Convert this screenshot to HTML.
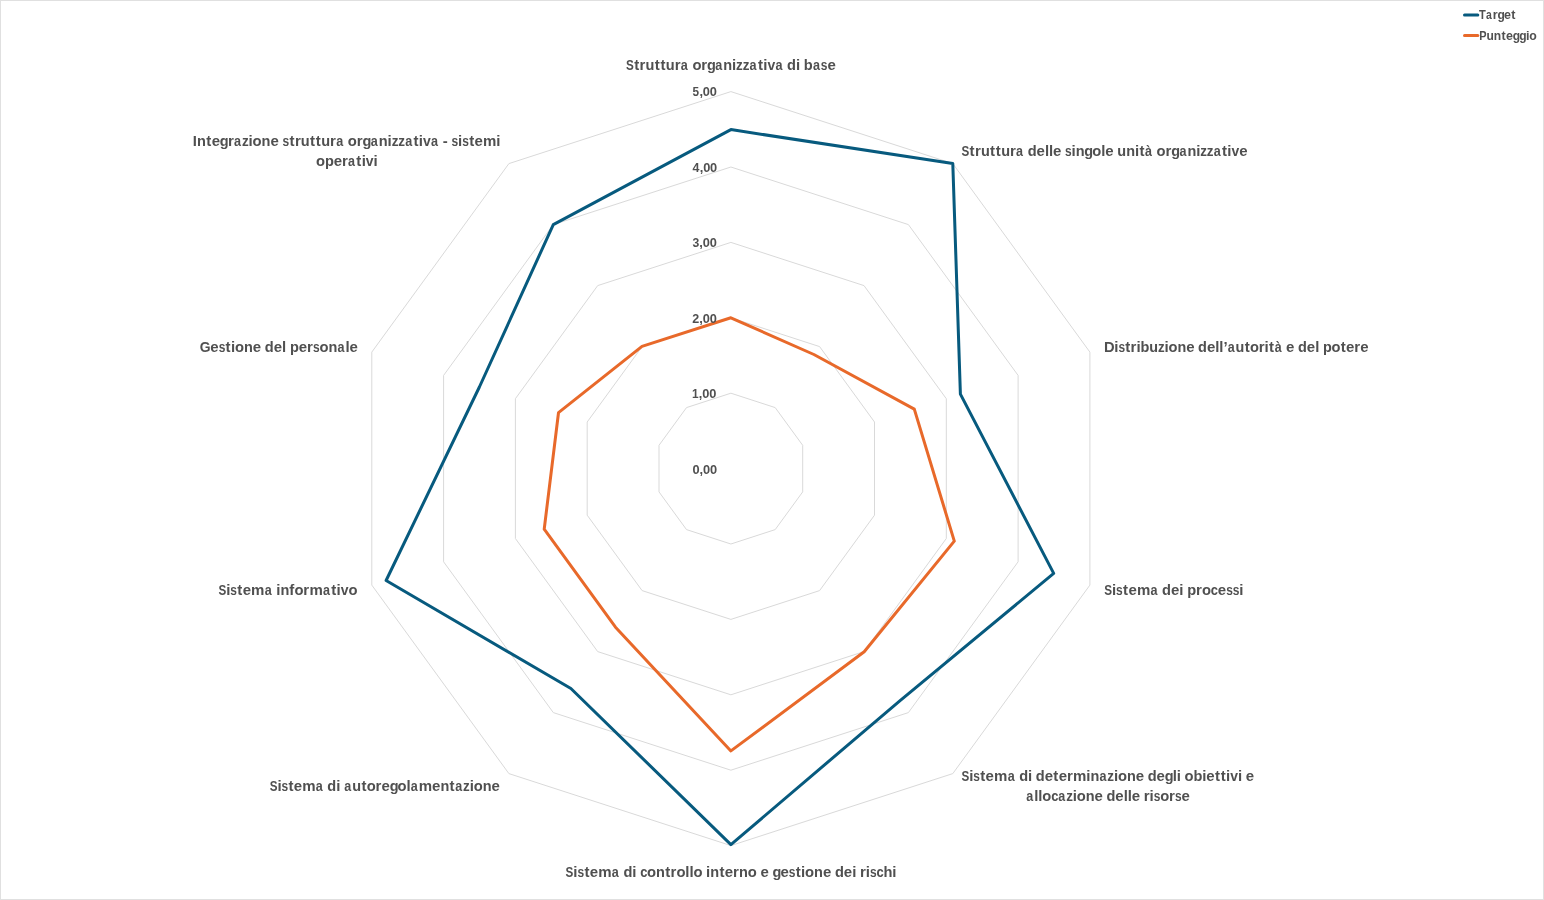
<!DOCTYPE html>
<html><head><meta charset="utf-8"><style>
html,body{margin:0;padding:0;background:#fff;}
body{width:1544px;height:900px;overflow:hidden;position:relative;}
svg{position:absolute;left:0;top:0;will-change:transform;}
text{font-family:"Liberation Sans",sans-serif;font-weight:bold;fill:#505050;}
.lb{font-size:15.0px;}
.vl{font-size:12.8px;}
.lg{font-size:12.5px;}
</style></head><body>
<svg width="1544" height="900" viewBox="0 0 1544 900">
<rect x="0.5" y="0.5" width="1543" height="899" fill="#fff" stroke="#e0e0e0" stroke-width="1"/>
<polygon points="730.9,393.2 775.2,407.6 802.7,445.3 802.7,491.9 775.2,529.6 730.9,544.0 686.5,529.6 659.0,491.9 659.0,445.3 686.5,407.6" fill="none" stroke="#d9d9d9" stroke-width="1"/>
<polygon points="730.9,317.8 819.6,346.6 874.5,422.0 874.5,515.2 819.6,590.6 730.9,619.4 642.1,590.6 587.2,515.2 587.2,422.0 642.1,346.6" fill="none" stroke="#d9d9d9" stroke-width="1"/>
<polygon points="730.9,242.4 864.0,285.6 946.3,398.7 946.3,538.5 864.0,651.6 730.9,694.8 597.7,651.6 515.4,538.5 515.4,398.7 597.7,285.6" fill="none" stroke="#d9d9d9" stroke-width="1"/>
<polygon points="730.9,167.0 908.4,224.6 1018.1,375.4 1018.1,561.8 908.4,712.6 730.9,770.2 553.3,712.6 443.6,561.8 443.6,375.4 553.3,224.6" fill="none" stroke="#d9d9d9" stroke-width="1"/>
<polygon points="730.9,91.6 952.8,163.6 1089.9,352.1 1089.9,585.1 952.8,773.6 730.9,845.6 508.9,773.6 371.8,585.1 371.8,352.1 508.9,163.6" fill="none" stroke="#d9d9d9" stroke-width="1"/>
<polygon points="730.9,129.6 952.8,163.6 960.4,394.1 1053.7,573.4 899.8,700.8 730.9,844.6 570.9,688.5 386.1,580.5 479.4,387.0 553.3,224.6" fill="none" stroke="#075a7e" stroke-width="3" stroke-linejoin="round"/>
<polygon points="730.9,317.8 813.9,354.5 914.3,409.1 954.3,541.1 864.2,651.8 730.9,750.9 615.5,627.2 544.2,529.2 558.5,412.7 642.0,346.4" fill="none" stroke="#e8692a" stroke-width="3" stroke-linejoin="round"/>
<g class="vl"><text transform="scale(1.0000 1)" x="692.45" y="474.00">0</text><text transform="scale(1.0000 1)" x="699.50" y="474.00">,</text><text transform="scale(1.0000 1)" x="702.97" y="474.00">0</text><text transform="scale(1.0000 1)" x="709.94" y="474.00">0</text></g>
<g class="vl"><text transform="scale(0.9288 1)" x="745.09" y="398.00">1</text><text transform="scale(1.0000 1)" x="698.86" y="398.00">,</text><text transform="scale(1.0000 1)" x="702.33" y="398.00">0</text><text transform="scale(1.0000 1)" x="709.30" y="398.00">0</text></g>
<g class="vl"><text transform="scale(0.9783 1)" x="707.69" y="323.00">2</text><text transform="scale(1.0000 1)" x="699.31" y="323.00">,</text><text transform="scale(1.0000 1)" x="702.79" y="323.00">0</text><text transform="scale(1.0000 1)" x="709.75" y="323.00">0</text></g>
<g class="vl"><text transform="scale(0.9550 1)" x="725.17" y="247.00">3</text><text transform="scale(1.0000 1)" x="699.27" y="247.00">,</text><text transform="scale(1.0000 1)" x="702.74" y="247.00">0</text><text transform="scale(1.0000 1)" x="709.71" y="247.00">0</text></g>
<g class="vl"><text transform="scale(0.9714 1)" x="713.00" y="172.00">4</text><text transform="scale(1.0000 1)" x="699.68" y="172.00">,</text><text transform="scale(1.0000 1)" x="703.15" y="172.00">0</text><text transform="scale(1.0000 1)" x="710.12" y="172.00">0</text></g>
<g class="vl"><text transform="scale(0.9224 1)" x="750.68" y="96.00">5</text><text transform="scale(1.0000 1)" x="699.38" y="96.00">,</text><text transform="scale(1.0000 1)" x="702.85" y="96.00">0</text><text transform="scale(1.0000 1)" x="709.82" y="96.00">0</text></g>
<g class="lb"><text transform="scale(0.7807 1)" x="801.80" y="70.00">S</text><text transform="scale(1.0000 1)" x="634.14" y="70.00">t</text><text transform="scale(1.0000 1)" x="639.52" y="70.00">r</text><text transform="scale(0.9686 1)" x="666.35" y="70.00">u</text><text transform="scale(1.0000 1)" x="654.65" y="70.00">t</text><text transform="scale(1.0000 1)" x="660.39" y="70.00">t</text><text transform="scale(0.9686 1)" x="687.37" y="70.00">u</text><text transform="scale(1.0000 1)" x="674.65" y="70.00">r</text><text transform="scale(0.8408 1)" x="809.66" y="70.00">a</text><text transform="scale(0.9883 1)" x="700.62" y="70.00">o</text><text transform="scale(1.0000 1)" x="701.35" y="70.00">r</text><text transform="scale(0.9664 1)" x="731.60" y="70.00">g</text><text transform="scale(0.8408 1)" x="850.75" y="70.00">a</text><text transform="scale(0.9686 1)" x="746.80" y="70.00">n</text><text transform="scale(1.0000 1)" x="732.11" y="70.00">i</text><text transform="scale(0.8976 1)" x="820.10" y="70.00">z</text><text transform="scale(0.8976 1)" x="827.43" y="70.00">z</text><text transform="scale(0.8408 1)" x="891.52" y="70.00">a</text><text transform="scale(1.0000 1)" x="757.89" y="70.00">t</text><text transform="scale(1.0000 1)" x="763.25" y="70.00">i</text><text transform="scale(0.9315 1)" x="823.87" y="70.00">v</text><text transform="scale(0.8408 1)" x="922.21" y="70.00">a</text><text transform="scale(0.9753 1)" x="806.99" y="70.00">d</text><text transform="scale(1.0000 1)" x="795.95" y="70.00">i</text><text transform="scale(0.9753 1)" x="824.24" y="70.00">b</text><text transform="scale(0.8408 1)" x="966.80" y="70.00">a</text><text transform="scale(0.8016 1)" x="1024.03" y="70.00">s</text><text transform="scale(1.0000 1)" x="827.43" y="70.00">e</text></g>
<g class="lb"><text transform="scale(0.7783 1)" x="1235.38" y="156.00">S</text><text transform="scale(1.0000 1)" x="969.61" y="156.00">t</text><text transform="scale(1.0000 1)" x="974.97" y="156.00">r</text><text transform="scale(0.9656 1)" x="1015.82" y="156.00">u</text><text transform="scale(1.0000 1)" x="990.06" y="156.00">t</text><text transform="scale(1.0000 1)" x="995.78" y="156.00">t</text><text transform="scale(0.9656 1)" x="1036.85" y="156.00">u</text><text transform="scale(1.0000 1)" x="1009.99" y="156.00">r</text><text transform="scale(0.8382 1)" x="1212.23" y="156.00">a</text><text transform="scale(0.9722 1)" x="1057.03" y="156.00">d</text><text transform="scale(1.0000 1)" x="1036.58" y="156.00">e</text><text transform="scale(0.9945 1)" x="1050.73" y="156.00">l</text><text transform="scale(0.9945 1)" x="1054.81" y="156.00">l</text><text transform="scale(1.0000 1)" x="1053.00" y="156.00">e</text><text transform="scale(0.7991 1)" x="1332.84" y="156.00">s</text><text transform="scale(1.0000 1)" x="1071.61" y="156.00">i</text><text transform="scale(0.9656 1)" x="1114.13" y="156.00">n</text><text transform="scale(0.9634 1)" x="1125.50" y="156.00">g</text><text transform="scale(0.9852 1)" x="1108.72" y="156.00">o</text><text transform="scale(0.9945 1)" x="1107.38" y="156.00">l</text><text transform="scale(1.0000 1)" x="1105.28" y="156.00">e</text><text transform="scale(0.9656 1)" x="1157.18" y="156.00">u</text><text transform="scale(0.9656 1)" x="1166.43" y="156.00">n</text><text transform="scale(1.0000 1)" x="1135.01" y="156.00">i</text><text transform="scale(1.0000 1)" x="1139.45" y="156.00">t</text><text transform="scale(0.8382 1)" x="1366.13" y="156.00">à</text><text transform="scale(0.9852 1)" x="1174.01" y="156.00">o</text><text transform="scale(1.0000 1)" x="1165.56" y="156.00">r</text><text transform="scale(0.9634 1)" x="1215.69" y="156.00">g</text><text transform="scale(0.8382 1)" x="1407.16" y="156.00">a</text><text transform="scale(0.9656 1)" x="1229.83" y="156.00">n</text><text transform="scale(1.0000 1)" x="1196.23" y="156.00">i</text><text transform="scale(0.8948 1)" x="1341.31" y="156.00">z</text><text transform="scale(0.8948 1)" x="1348.64" y="156.00">z</text><text transform="scale(0.8382 1)" x="1447.92" y="156.00">a</text><text transform="scale(1.0000 1)" x="1221.93" y="156.00">t</text><text transform="scale(1.0000 1)" x="1227.27" y="156.00">i</text><text transform="scale(0.9286 1)" x="1326.14" y="156.00">v</text><text transform="scale(1.0000 1)" x="1239.14" y="156.00">e</text></g>
<g class="lb"><text transform="scale(0.9810 1)" x="1125.38" y="352.00">D</text><text transform="scale(1.0000 1)" x="1114.32" y="352.00">i</text><text transform="scale(0.7934 1)" x="1409.62" y="352.00">s</text><text transform="scale(1.0000 1)" x="1125.26" y="352.00">t</text><text transform="scale(1.0000 1)" x="1130.57" y="352.00">r</text><text transform="scale(1.0000 1)" x="1136.39" y="352.00">i</text><text transform="scale(0.9653 1)" x="1181.51" y="352.00">b</text><text transform="scale(0.9587 1)" x="1198.77" y="352.00">u</text><text transform="scale(0.8885 1)" x="1303.35" y="352.00">z</text><text transform="scale(1.0000 1)" x="1164.51" y="352.00">i</text><text transform="scale(0.9782 1)" x="1194.58" y="352.00">o</text><text transform="scale(0.9587 1)" x="1228.20" y="352.00">n</text><text transform="scale(1.0000 1)" x="1186.13" y="352.00">e</text><text transform="scale(0.9653 1)" x="1241.12" y="352.00">d</text><text transform="scale(1.0000 1)" x="1206.88" y="352.00">e</text><text transform="scale(0.9874 1)" x="1230.71" y="352.00">l</text><text transform="scale(0.9874 1)" x="1234.78" y="352.00">l</text><text transform="scale(1.0000 1)" x="1223.38" y="352.00">’</text><text transform="scale(0.8323 1)" x="1475.15" y="352.00">a</text><text transform="scale(0.9587 1)" x="1288.77" y="352.00">u</text><text transform="scale(1.0000 1)" x="1244.66" y="352.00">t</text><text transform="scale(0.9782 1)" x="1277.83" y="352.00">o</text><text transform="scale(1.0000 1)" x="1258.78" y="352.00">r</text><text transform="scale(1.0000 1)" x="1264.60" y="352.00">i</text><text transform="scale(1.0000 1)" x="1269.00" y="352.00">t</text><text transform="scale(0.8323 1)" x="1531.56" y="352.00">à</text><text transform="scale(1.0000 1)" x="1286.09" y="352.00">e</text><text transform="scale(0.9653 1)" x="1344.67" y="352.00">d</text><text transform="scale(1.0000 1)" x="1306.84" y="352.00">e</text><text transform="scale(0.9874 1)" x="1331.95" y="352.00">l</text><text transform="scale(0.9664 1)" x="1368.95" y="352.00">p</text><text transform="scale(0.9782 1)" x="1361.29" y="352.00">o</text><text transform="scale(1.0000 1)" x="1340.79" y="352.00">t</text><text transform="scale(1.0000 1)" x="1346.10" y="352.00">e</text><text transform="scale(1.0000 1)" x="1354.36" y="352.00">r</text><text transform="scale(1.0000 1)" x="1360.17" y="352.00">e</text></g>
<g class="lb"><text transform="scale(0.7812 1)" x="1413.44" y="595.00">S</text><text transform="scale(1.0000 1)" x="1111.97" y="595.00">i</text><text transform="scale(0.8021 1)" x="1391.46" y="595.00">s</text><text transform="scale(1.0000 1)" x="1123.03" y="595.00">t</text><text transform="scale(1.0000 1)" x="1128.41" y="595.00">e</text><text transform="scale(1.0000 1)" x="1136.89" y="595.00">m</text><text transform="scale(0.8414 1)" x="1367.40" y="595.00">a</text><text transform="scale(0.9759 1)" x="1190.81" y="595.00">d</text><text transform="scale(1.0000 1)" x="1171.03" y="595.00">e</text><text transform="scale(1.0000 1)" x="1179.35" y="595.00">i</text><text transform="scale(0.9769 1)" x="1215.26" y="595.00">p</text><text transform="scale(1.0000 1)" x="1196.07" y="595.00">r</text><text transform="scale(0.9889 1)" x="1215.41" y="595.00">o</text><text transform="scale(0.8633 1)" x="1402.55" y="595.00">c</text><text transform="scale(1.0000 1)" x="1217.79" y="595.00">e</text><text transform="scale(0.8021 1)" x="1528.69" y="595.00">s</text><text transform="scale(0.8021 1)" x="1536.93" y="595.00">s</text><text transform="scale(1.0000 1)" x="1239.33" y="595.00">i</text></g>
<g class="lb"><text transform="scale(0.7782 1)" x="1235.48" y="781.00">S</text><text transform="scale(1.0000 1)" x="969.23" y="781.00">i</text><text transform="scale(0.7990 1)" x="1218.13" y="781.00">s</text><text transform="scale(1.0000 1)" x="980.25" y="781.00">t</text><text transform="scale(1.0000 1)" x="985.60" y="781.00">e</text><text transform="scale(1.0000 1)" x="994.04" y="781.00">m</text><text transform="scale(0.8382 1)" x="1202.16" y="781.00">a</text><text transform="scale(0.9722 1)" x="1048.35" y="781.00">d</text><text transform="scale(1.0000 1)" x="1028.05" y="781.00">i</text><text transform="scale(0.9722 1)" x="1065.46" y="781.00">d</text><text transform="scale(1.0000 1)" x="1044.70" y="781.00">e</text><text transform="scale(1.0000 1)" x="1053.37" y="781.00">t</text><text transform="scale(1.0000 1)" x="1058.73" y="781.00">e</text><text transform="scale(1.0000 1)" x="1067.04" y="781.00">r</text><text transform="scale(1.0000 1)" x="1073.03" y="781.00">m</text><text transform="scale(1.0000 1)" x="1086.31" y="781.00">i</text><text transform="scale(0.9655 1)" x="1129.45" y="781.00">n</text><text transform="scale(0.8382 1)" x="1311.81" y="781.00">a</text><text transform="scale(0.8948 1)" x="1237.57" y="781.00">z</text><text transform="scale(1.0000 1)" x="1113.92" y="781.00">i</text><text transform="scale(0.9851 1)" x="1134.84" y="781.00">o</text><text transform="scale(0.9655 1)" x="1167.24" y="781.00">n</text><text transform="scale(1.0000 1)" x="1135.71" y="781.00">e</text><text transform="scale(0.9722 1)" x="1180.58" y="781.00">d</text><text transform="scale(1.0000 1)" x="1156.61" y="781.00">e</text><text transform="scale(0.9634 1)" x="1209.04" y="781.00">g</text><text transform="scale(0.9944 1)" x="1179.38" y="781.00">l</text><text transform="scale(1.0000 1)" x="1176.78" y="781.00">i</text><text transform="scale(0.9851 1)" x="1202.43" y="781.00">o</text><text transform="scale(0.9722 1)" x="1227.71" y="781.00">b</text><text transform="scale(1.0000 1)" x="1202.29" y="781.00">i</text><text transform="scale(1.0000 1)" x="1206.35" y="781.00">e</text><text transform="scale(1.0000 1)" x="1215.03" y="781.00">t</text><text transform="scale(1.0000 1)" x="1220.75" y="781.00">t</text><text transform="scale(1.0000 1)" x="1226.09" y="781.00">i</text><text transform="scale(0.9285 1)" x="1324.98" y="781.00">v</text><text transform="scale(1.0000 1)" x="1237.95" y="781.00">i</text><text transform="scale(1.0000 1)" x="1245.74" y="781.00">e</text></g>
<g class="lb"><text transform="scale(0.8372 1)" x="1225.96" y="801.00">a</text><text transform="scale(0.9932 1)" x="1041.29" y="801.00">l</text><text transform="scale(0.9932 1)" x="1045.37" y="801.00">l</text><text transform="scale(0.9840 1)" x="1059.25" y="801.00">o</text><text transform="scale(0.8590 1)" x="1223.68" y="801.00">c</text><text transform="scale(0.8372 1)" x="1264.18" y="801.00">a</text><text transform="scale(0.8937 1)" x="1192.95" y="801.00">z</text><text transform="scale(1.0000 1)" x="1072.72" y="801.00">i</text><text transform="scale(0.9840 1)" x="1094.31" y="801.00">o</text><text transform="scale(0.9643 1)" x="1125.88" y="801.00">n</text><text transform="scale(1.0000 1)" x="1094.49" y="801.00">e</text><text transform="scale(0.9710 1)" x="1139.51" y="801.00">d</text><text transform="scale(1.0000 1)" x="1115.35" y="801.00">e</text><text transform="scale(0.9932 1)" x="1131.37" y="801.00">l</text><text transform="scale(0.9932 1)" x="1135.44" y="801.00">l</text><text transform="scale(1.0000 1)" x="1131.75" y="801.00">e</text><text transform="scale(1.0000 1)" x="1143.78" y="801.00">r</text><text transform="scale(1.0000 1)" x="1149.62" y="801.00">i</text><text transform="scale(0.7981 1)" x="1445.60" y="801.00">s</text><text transform="scale(0.9840 1)" x="1179.14" y="801.00">o</text><text transform="scale(1.0000 1)" x="1169.12" y="801.00">r</text><text transform="scale(0.7981 1)" x="1472.28" y="801.00">s</text><text transform="scale(1.0000 1)" x="1181.55" y="801.00">e</text></g>
<g class="lb"><text transform="scale(0.7802 1)" x="724.86" y="877.00">S</text><text transform="scale(1.0000 1)" x="573.36" y="877.00">i</text><text transform="scale(0.8011 1)" x="720.82" y="877.00">s</text><text transform="scale(1.0000 1)" x="584.40" y="877.00">t</text><text transform="scale(1.0000 1)" x="589.77" y="877.00">e</text><text transform="scale(1.0000 1)" x="598.24" y="877.00">m</text><text transform="scale(0.8403 1)" x="728.06" y="877.00">a</text><text transform="scale(0.9747 1)" x="639.60" y="877.00">d</text><text transform="scale(1.0000 1)" x="632.33" y="877.00">i</text><text transform="scale(0.8623 1)" x="742.38" y="877.00">c</text><text transform="scale(0.9877 1)" x="655.09" y="877.00">o</text><text transform="scale(0.9680 1)" x="677.74" y="877.00">n</text><text transform="scale(1.0000 1)" x="665.21" y="877.00">t</text><text transform="scale(1.0000 1)" x="670.58" y="877.00">r</text><text transform="scale(0.9877 1)" x="684.85" y="877.00">o</text><text transform="scale(0.9970 1)" x="687.44" y="877.00">l</text><text transform="scale(0.9970 1)" x="691.52" y="877.00">l</text><text transform="scale(0.9877 1)" x="702.08" y="877.00">o</text><text transform="scale(1.0000 1)" x="706.10" y="877.00">i</text><text transform="scale(0.9680 1)" x="733.74" y="877.00">n</text><text transform="scale(1.0000 1)" x="719.42" y="877.00">t</text><text transform="scale(1.0000 1)" x="724.79" y="877.00">e</text><text transform="scale(1.0000 1)" x="733.12" y="877.00">r</text><text transform="scale(0.9680 1)" x="763.52" y="877.00">n</text><text transform="scale(0.9877 1)" x="757.16" y="877.00">o</text><text transform="scale(1.0000 1)" x="760.51" y="877.00">e</text><text transform="scale(0.9659 1)" x="799.69" y="877.00">g</text><text transform="scale(1.0000 1)" x="780.43" y="877.00">e</text><text transform="scale(0.8011 1)" x="984.60" y="877.00">s</text><text transform="scale(1.0000 1)" x="795.72" y="877.00">t</text><text transform="scale(1.0000 1)" x="801.07" y="877.00">i</text><text transform="scale(0.9877 1)" x="815.15" y="877.00">o</text><text transform="scale(0.9680 1)" x="841.04" y="877.00">n</text><text transform="scale(1.0000 1)" x="822.92" y="877.00">e</text><text transform="scale(0.9747 1)" x="856.62" y="877.00">d</text><text transform="scale(1.0000 1)" x="843.87" y="877.00">e</text><text transform="scale(1.0000 1)" x="852.18" y="877.00">i</text><text transform="scale(1.0000 1)" x="860.01" y="877.00">r</text><text transform="scale(1.0000 1)" x="865.87" y="877.00">i</text><text transform="scale(0.8011 1)" x="1085.95" y="877.00">s</text><text transform="scale(0.8623 1)" x="1016.55" y="877.00">c</text><text transform="scale(0.9759 1)" x="905.32" y="877.00">h</text><text transform="scale(1.0000 1)" x="892.33" y="877.00">i</text></g>
<g class="lb"><text transform="scale(0.7780 1)" x="346.59" y="791.00">S</text><text transform="scale(1.0000 1)" x="277.43" y="791.00">i</text><text transform="scale(0.7989 1)" x="352.41" y="791.00">s</text><text transform="scale(1.0000 1)" x="288.44" y="791.00">t</text><text transform="scale(1.0000 1)" x="293.79" y="791.00">e</text><text transform="scale(1.0000 1)" x="302.23" y="791.00">m</text><text transform="scale(0.8380 1)" x="376.85" y="791.00">a</text><text transform="scale(0.9720 1)" x="336.80" y="791.00">d</text><text transform="scale(1.0000 1)" x="336.23" y="791.00">i</text><text transform="scale(0.8380 1)" x="410.87" y="791.00">a</text><text transform="scale(0.9653 1)" x="364.85" y="791.00">u</text><text transform="scale(1.0000 1)" x="361.39" y="791.00">t</text><text transform="scale(0.9849 1)" x="372.33" y="791.00">o</text><text transform="scale(1.0000 1)" x="375.62" y="791.00">r</text><text transform="scale(1.0000 1)" x="381.48" y="791.00">e</text><text transform="scale(0.9632 1)" x="404.52" y="791.00">g</text><text transform="scale(0.9849 1)" x="403.66" y="791.00">o</text><text transform="scale(0.9942 1)" x="408.88" y="791.00">l</text><text transform="scale(0.8380 1)" x="490.22" y="791.00">a</text><text transform="scale(1.0000 1)" x="418.80" y="791.00">m</text><text transform="scale(1.0000 1)" x="432.09" y="791.00">e</text><text transform="scale(0.9653 1)" x="456.33" y="791.00">n</text><text transform="scale(1.0000 1)" x="449.62" y="791.00">t</text><text transform="scale(0.8380 1)" x="543.26" y="791.00">a</text><text transform="scale(0.8946 1)" x="517.64" y="791.00">z</text><text transform="scale(1.0000 1)" x="469.66" y="791.00">i</text><text transform="scale(0.9849 1)" x="480.95" y="791.00">o</text><text transform="scale(0.9653 1)" x="500.05" y="791.00">n</text><text transform="scale(1.0000 1)" x="491.44" y="791.00">e</text></g>
<g class="lb"><text transform="scale(0.7797 1)" x="280.20" y="595.00">S</text><text transform="scale(1.0000 1)" x="226.25" y="595.00">i</text><text transform="scale(0.8005 1)" x="287.76" y="595.00">s</text><text transform="scale(1.0000 1)" x="237.29" y="595.00">t</text><text transform="scale(1.0000 1)" x="242.65" y="595.00">e</text><text transform="scale(1.0000 1)" x="251.11" y="595.00">m</text><text transform="scale(0.8397 1)" x="315.21" y="595.00">a</text><text transform="scale(1.0000 1)" x="276.30" y="595.00">i</text><text transform="scale(0.9673 1)" x="289.95" y="595.00">n</text><text transform="scale(1.0000 1)" x="289.32" y="595.00">f</text><text transform="scale(0.9870 1)" x="298.34" y="595.00">o</text><text transform="scale(1.0000 1)" x="303.37" y="595.00">r</text><text transform="scale(1.0000 1)" x="309.38" y="595.00">m</text><text transform="scale(0.8397 1)" x="384.60" y="595.00">a</text><text transform="scale(1.0000 1)" x="331.22" y="595.00">t</text><text transform="scale(1.0000 1)" x="336.57" y="595.00">i</text><text transform="scale(0.9302 1)" x="366.28" y="595.00">v</text><text transform="scale(0.9870 1)" x="353.04" y="595.00">o</text></g>
<g class="lb"><text transform="scale(0.9278 1)" x="215.28" y="352.00">G</text><text transform="scale(1.0000 1)" x="210.35" y="352.00">e</text><text transform="scale(0.8001 1)" x="273.34" y="352.00">s</text><text transform="scale(1.0000 1)" x="225.62" y="352.00">t</text><text transform="scale(1.0000 1)" x="230.97" y="352.00">i</text><text transform="scale(0.9864 1)" x="238.24" y="352.00">o</text><text transform="scale(0.9668 1)" x="252.41" y="352.00">n</text><text transform="scale(1.0000 1)" x="252.79" y="352.00">e</text><text transform="scale(0.9734 1)" x="272.02" y="352.00">d</text><text transform="scale(1.0000 1)" x="273.71" y="352.00">e</text><text transform="scale(0.9957 1)" x="283.26" y="352.00">l</text><text transform="scale(0.9745 1)" x="297.48" y="352.00">p</text><text transform="scale(1.0000 1)" x="298.69" y="352.00">e</text><text transform="scale(1.0000 1)" x="307.01" y="352.00">r</text><text transform="scale(0.8001 1)" x="391.10" y="352.00">s</text><text transform="scale(0.9864 1)" x="323.84" y="352.00">o</text><text transform="scale(0.9668 1)" x="339.74" y="352.00">n</text><text transform="scale(0.8393 1)" x="402.13" y="352.00">a</text><text transform="scale(0.9957 1)" x="346.89" y="352.00">l</text><text transform="scale(1.0000 1)" x="349.44" y="352.00">e</text></g>
<g class="lb"><text transform="scale(0.9890 1)" x="194.96" y="146.00">I</text><text transform="scale(0.9699 1)" x="203.24" y="146.00">n</text><text transform="scale(1.0000 1)" x="206.30" y="146.00">t</text><text transform="scale(1.0000 1)" x="211.69" y="146.00">e</text><text transform="scale(0.9678 1)" x="227.17" y="146.00">g</text><text transform="scale(1.0000 1)" x="227.90" y="146.00">r</text><text transform="scale(0.8420 1)" x="277.96" y="146.00">a</text><text transform="scale(0.8989 1)" x="269.13" y="146.00">z</text><text transform="scale(1.0000 1)" x="248.54" y="146.00">i</text><text transform="scale(0.9896 1)" x="255.23" y="146.00">o</text><text transform="scale(0.9699 1)" x="269.73" y="146.00">n</text><text transform="scale(1.0000 1)" x="270.44" y="146.00">e</text><text transform="scale(0.8027 1)" x="352.00" y="146.00">s</text><text transform="scale(1.0000 1)" x="289.50" y="146.00">t</text><text transform="scale(1.0000 1)" x="294.89" y="146.00">r</text><text transform="scale(0.9699 1)" x="310.11" y="146.00">u</text><text transform="scale(1.0000 1)" x="310.04" y="146.00">t</text><text transform="scale(1.0000 1)" x="315.79" y="146.00">t</text><text transform="scale(0.9699 1)" x="331.13" y="146.00">u</text><text transform="scale(1.0000 1)" x="330.07" y="146.00">r</text><text transform="scale(0.8420 1)" x="399.30" y="146.00">a</text><text transform="scale(0.9896 1)" x="351.48" y="146.00">o</text><text transform="scale(1.0000 1)" x="356.80" y="146.00">r</text><text transform="scale(0.9678 1)" x="374.58" y="146.00">g</text><text transform="scale(0.8420 1)" x="440.39" y="146.00">a</text><text transform="scale(0.9699 1)" x="390.56" y="146.00">n</text><text transform="scale(1.0000 1)" x="387.61" y="146.00">i</text><text transform="scale(0.8989 1)" x="435.71" y="146.00">z</text><text transform="scale(0.8989 1)" x="443.04" y="146.00">z</text><text transform="scale(0.8420 1)" x="481.16" y="146.00">a</text><text transform="scale(1.0000 1)" x="413.42" y="146.00">t</text><text transform="scale(1.0000 1)" x="418.79" y="146.00">i</text><text transform="scale(0.9327 1)" x="453.44" y="146.00">v</text><text transform="scale(0.8420 1)" x="511.85" y="146.00">a</text><text transform="scale(1.0000 1)" x="442.73" y="146.00">-</text><text transform="scale(0.8027 1)" x="562.48" y="146.00">s</text><text transform="scale(1.0000 1)" x="458.07" y="146.00">i</text><text transform="scale(0.8027 1)" x="575.79" y="146.00">s</text><text transform="scale(1.0000 1)" x="469.14" y="146.00">t</text><text transform="scale(1.0000 1)" x="474.52" y="146.00">e</text><text transform="scale(1.0000 1)" x="483.01" y="146.00">m</text><text transform="scale(1.0000 1)" x="496.33" y="146.00">i</text></g>
<g class="lb"><text transform="scale(0.9851 1)" x="320.71" y="166.00">o</text><text transform="scale(0.9732 1)" x="333.86" y="166.00">p</text><text transform="scale(1.0000 1)" x="333.67" y="166.00">e</text><text transform="scale(1.0000 1)" x="341.99" y="166.00">r</text><text transform="scale(0.8381 1)" x="415.37" y="166.00">a</text><text transform="scale(1.0000 1)" x="356.36" y="166.00">t</text><text transform="scale(1.0000 1)" x="361.70" y="166.00">i</text><text transform="scale(0.9284 1)" x="394.05" y="166.00">v</text><text transform="scale(1.0000 1)" x="373.56" y="166.00">i</text></g>
<line x1="1464.5" y1="15" x2="1477.8" y2="15" stroke="#075a7e" stroke-width="3" stroke-linecap="round"/>
<line x1="1464.5" y1="35.6" x2="1477.8" y2="35.6" stroke="#e8692a" stroke-width="3" stroke-linecap="round"/>
<g class="lg"><text transform="scale(0.8920 1)" x="1658.08" y="19.00">T</text><text transform="scale(0.8381 1)" x="1773.15" y="19.00">a</text><text transform="scale(1.0000 1)" x="1492.64" y="19.00">r</text><text transform="scale(0.9633 1)" x="1554.43" y="19.00">g</text><text transform="scale(1.0000 1)" x="1504.04" y="19.00">e</text><text transform="scale(1.0000 1)" x="1511.27" y="19.00">t</text></g>
<g class="lg"><text transform="scale(0.8751 1)" x="1690.35" y="40.00">P</text><text transform="scale(0.9654 1)" x="1539.66" y="40.00">u</text><text transform="scale(0.9654 1)" x="1547.37" y="40.00">n</text><text transform="scale(1.0000 1)" x="1501.47" y="40.00">t</text><text transform="scale(1.0000 1)" x="1505.93" y="40.00">e</text><text transform="scale(0.9633 1)" x="1570.34" y="40.00">g</text><text transform="scale(0.9633 1)" x="1577.11" y="40.00">g</text><text transform="scale(1.0000 1)" x="1525.88" y="40.00">i</text><text transform="scale(0.9851 1)" x="1552.44" y="40.00">o</text></g>
</svg>
</body></html>
